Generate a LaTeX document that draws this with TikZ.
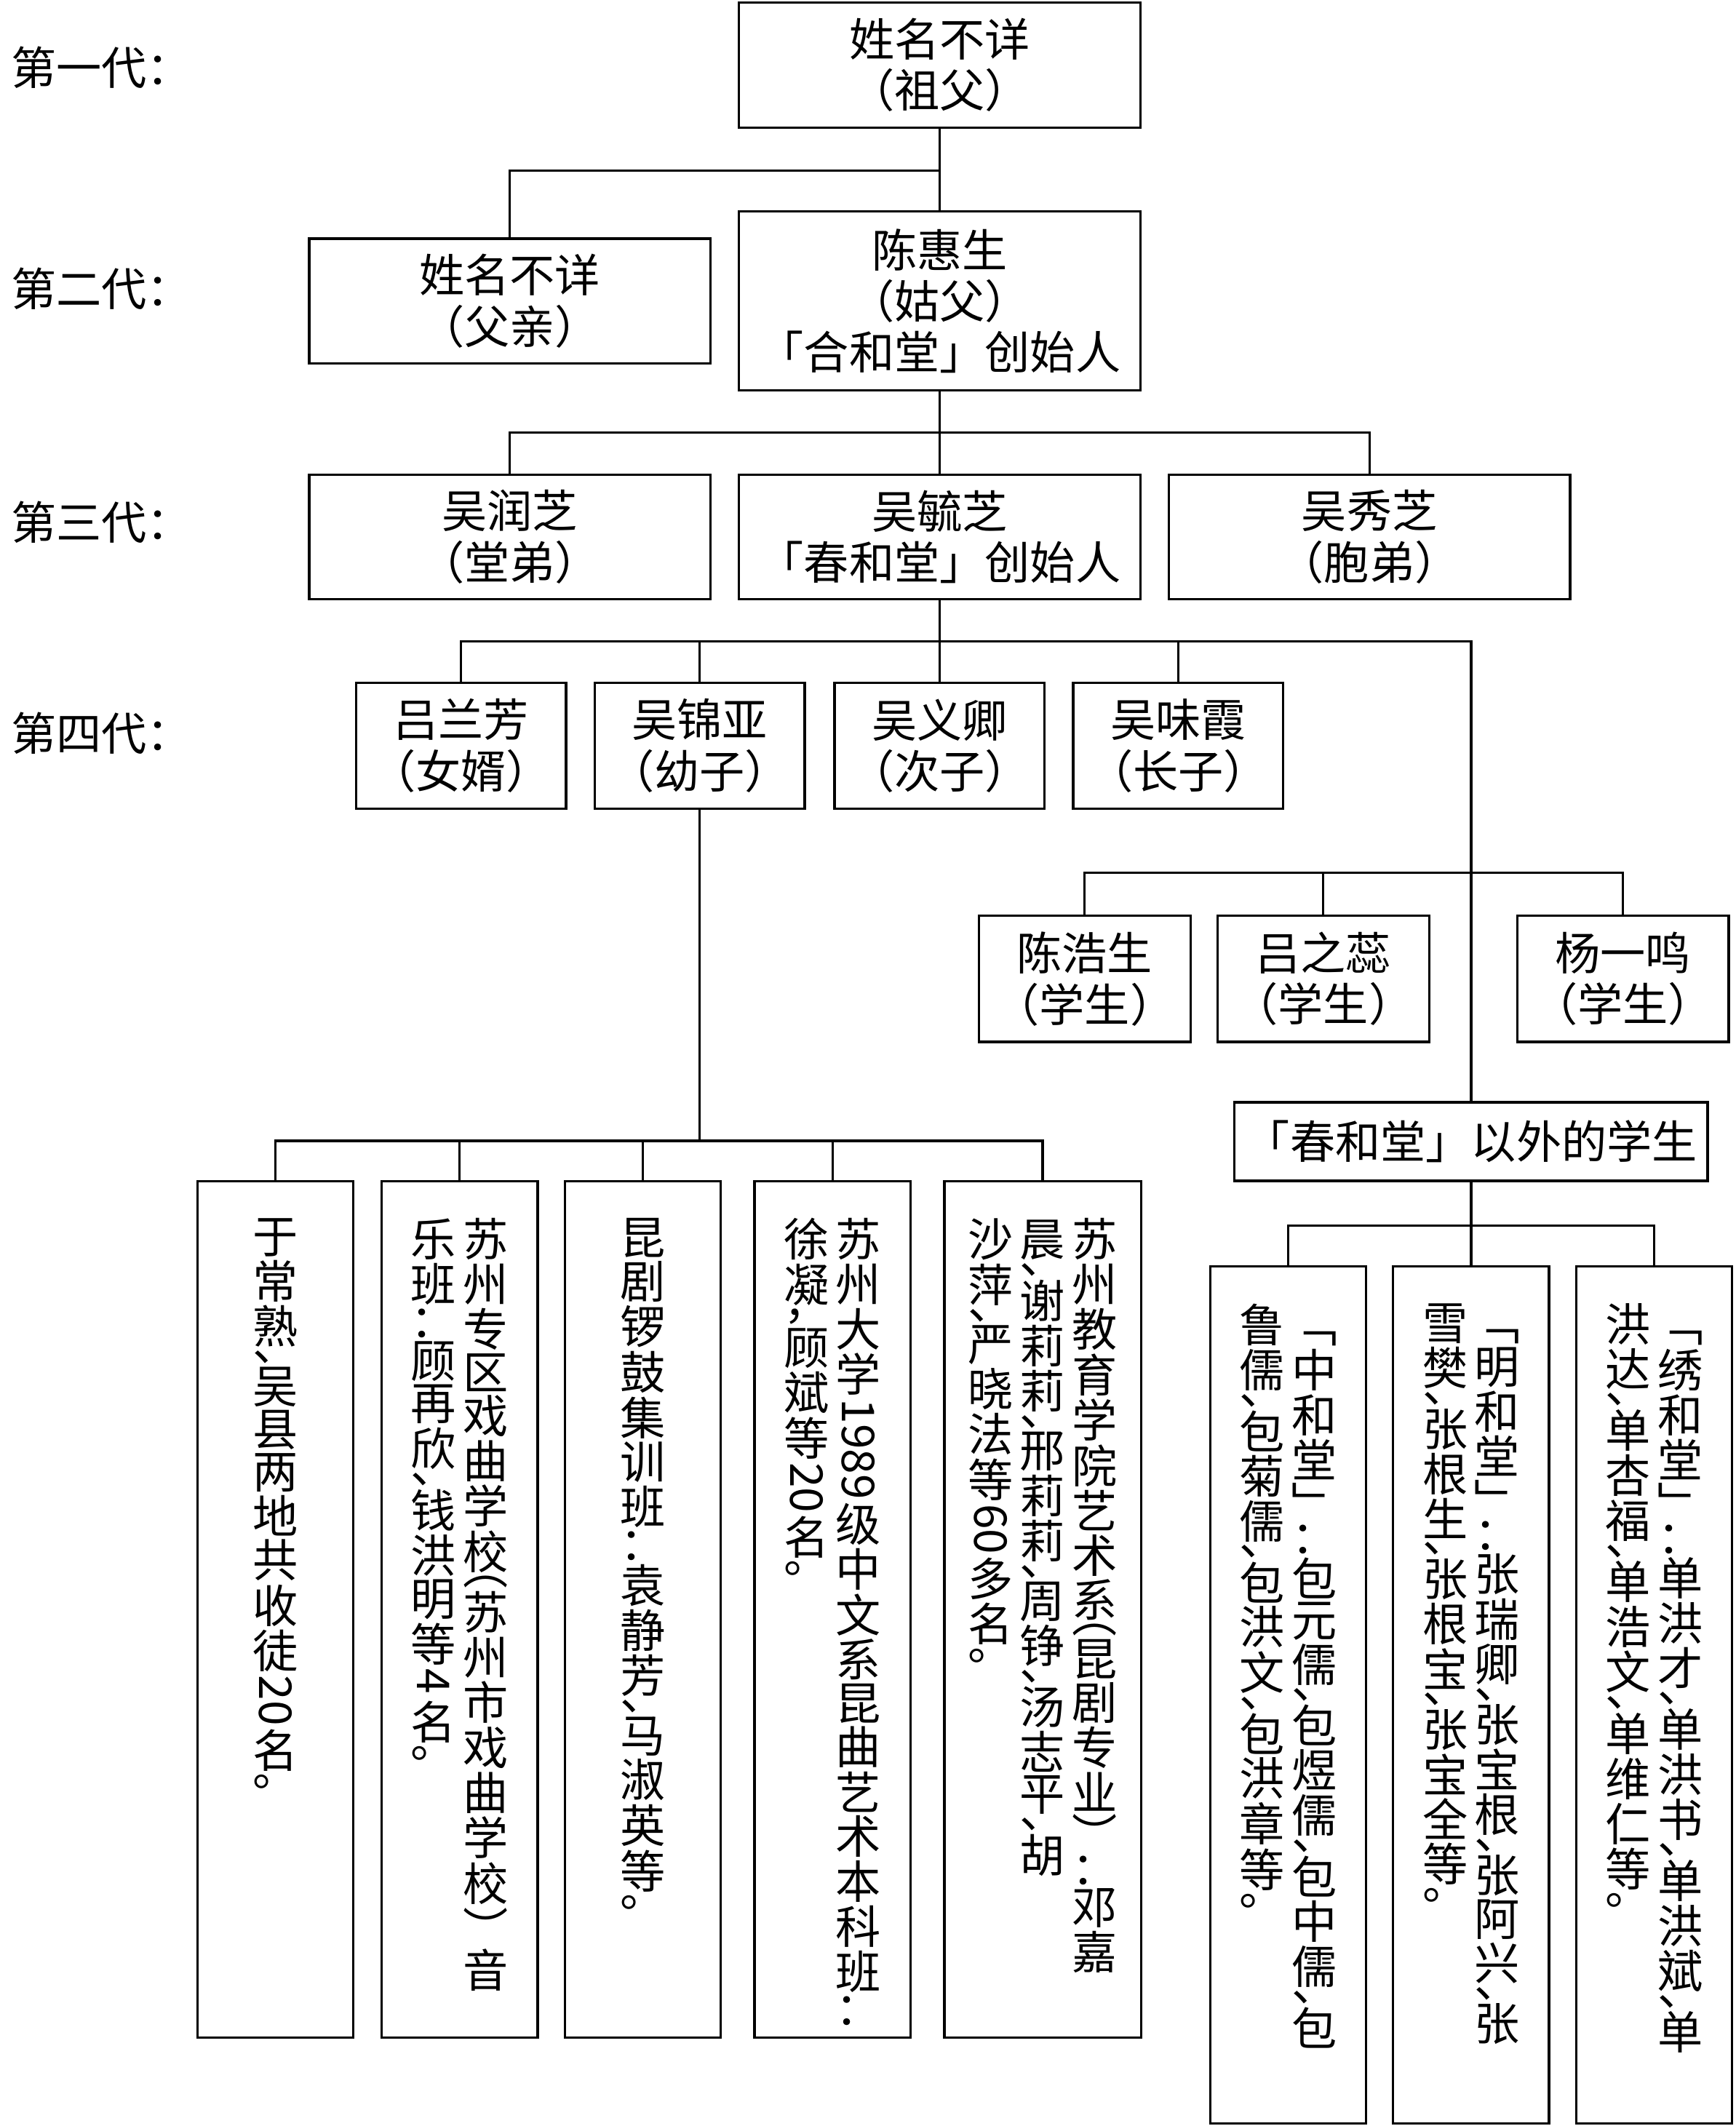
\documentclass[tikz,border=0pt]{standalone}
\usepackage{fontspec}
\usepackage{graphicx}
\setmainfont{Noto Sans CJK SC}
\XeTeXlinebreaklocale "zh"
\XeTeXlinebreakskip=0pt plus 1pt
\usetikzlibrary{positioning}

% one vertical column of characters
\ExplSyntaxOn
\NewDocumentCommand\vcol{m}{\vtop{\offinterlineskip
  \tl_map_inline:nn {#1}{\hbox_to_wd:nn {1.15em}{\hss ##1\hss}\kern0.08em}}}
\ExplSyntaxOff
\newcommand\vnum[1]{\rotatebox[origin=c]{-90}{#1}}

\tikzset{
  box/.style={rectangle,draw=black,line width=1pt,align=center,inner sep=2pt,
    font=\fontsize{19pt}{21.5pt}\selectfont},
  gbox/.style={box,minimum width=5.92cm,minimum height=1.84cm},
  sbox/.style={box,minimum width=3.1cm,minimum height=1.86cm},
  vbox/.style={rectangle,draw=black,line width=1pt,minimum width=2.3cm,minimum height=12.64cm},
  vtext/.style={inner sep=0pt,anchor=north,font=\fontsize{19pt}{22pt}\selectfont},
  gen/.style={anchor=west,font=\fontsize{19pt}{21pt}\selectfont},
  link/.style={line width=1pt}
}

\begin{document}
\begin{tikzpicture}[x=0.02cm,y=-0.02cm]
\useasboundingbox (0,0) rectangle (1280,1568);

% generations
\node[gen] (l1) at (2,50) {第一代：};
\node[gen] (l2) at (2,213) {第二代：};
\node[gen] (l3) at (2,385) {第三代：};
\node[gen] (l4) at (2,541) {第四代：};

\node[gbox] (g1) at (693,48) {姓名不详\\（祖父）};
\node[gbox] (g2a) at (376,222) {姓名不详\\（父亲）};
\node[gbox,minimum height=2.64cm] (g2b) at (693,222) {陈惠生\\（姑父）\\「合和堂」创始人};
\node[gbox] (g3a) at (376,396) {吴润芝\\（堂弟）};
\node[gbox] (g3b) at (693,396) {吴毓芝\\「春和堂」创始人};
\node[gbox] (g3c) at (1010,396) {吴秀芝\\（胞弟）};

\node[sbox] (g4a) at (340,550) {吕兰芳\\（女婿）};
\node[sbox] (g4b) at (516,550) {吴锦亚\\（幼子）};
\node[sbox] (g4c) at (693,550) {吴义卿\\（次子）};
\node[sbox] (g4d) at (869,550) {吴味霞\\（长子）};

\node[sbox,minimum width=3.12cm] (st1) at (800,722) {陈浩生\\（学生）};
\node[sbox,minimum width=3.12cm] (st2) at (976,722) {吕之蕊\\（学生）};
\node[sbox,minimum width=3.12cm] (st3) at (1197,722) {杨一鸣\\（学生）};
\node[box,minimum width=6.98cm,minimum height=1.16cm] (out) at (1085,842) {「春和堂」以外的学生};

% lower left
\node[vbox] (b1) at (203,1187) {};
\node[vbox] (b2) at (339,1187) {};
\node[vbox] (b3) at (474,1187) {};
\node[vbox] (b4) at (614,1187) {};
\node[vbox,minimum width=2.9cm] (b5) at (769,1187) {};
\node[vtext,below=0.56cm of b1.north] (t1) {\vcol{于常熟、吴县两地共收徒{\vnum{20}}名。}};
\node[vtext,below=0.56cm of b2.north] (t2) {\vcol{乐班：顾再欣、钱洪明等{\vnum{4}}名。}\vcol{苏州专区戏曲学校︵苏州市戏曲学校︶音}};
\node[vtext,below=0.56cm of b3.north] (t3) {\vcol{昆剧锣鼓集训班：袁静芳、马淑英等。}};
\node[vtext,below=0.56cm of b4.north] (t4) {\vcol{徐凝，顾斌等{\vnum{20}}名。}\vcol{苏州大学{\vnum{1989}}级中文系昆曲艺术本科班：}};
\node[vtext,below=0.56cm of b5.north] (t5) {\vcol{沙萍、严晓法等{\vnum{60}}多名。}\vcol{晨、谢莉莉、邢莉莉、周铮、汤志平、胡}\vcol{苏州教育学院艺术系︵昆剧专业︶：邓嘉}};

% lower right
\node[vbox] (r1) at (950,1250) {};
\node[vbox] (r2) at (1085,1250) {};
\node[vbox] (r3) at (1220,1250) {};
\node[vtext,below=0.56cm of r1.north] (u1) {\vcol{鲁儒、包菊儒、包洪文、包洪章等。}\vcol{﹁中和堂﹂：包元儒、包煜儒、包中儒、包}};
\node[vtext,below=0.56cm of r2.north] (u2) {\vcol{雪樊、张根生、张根宝、张宝全等。}\vcol{﹁明和堂﹂：张瑞卿、张宝根、张阿兴、张}};
\node[vtext,below=0.56cm of r3.north] (u3) {\vcol{洪达、单杏福、单浩文、单维仁等。}\vcol{﹁绣和堂﹂：单洪才、单洪书、单洪斌、单}};

% connectors
\draw[link] (g1.south) -- ++(0,31) -| (g2a.north);
\draw[link] (g1.south) -- (g2b.north);
\draw[link] (g2b.south) -- ++(0,30) -| (g3a.north);
\draw[link] (g2b.south) -- ++(0,30) -| (g3c.north);
\draw[link] (g2b.south) -- (g3b.north);
\draw[link] (g3b.south) -- ++(0,30) -| (g4a.north);
\draw[link] (g3b.south) -- ++(0,30) -| (g4b.north);
\draw[link] (g3b.south) -- (g4c.north);
\draw[link] (g3b.south) -- ++(0,30) -| (g4d.north);
\draw[link] (g3b.south) -- ++(0,30) -| (out.north);
\draw[link] (st1.north) -- ++(0,-31) -| (st3.north);
\draw[link] (st2.north) -- ++(0,-31);
\draw[link] (g4b.south) -- ++(0,244) -| (b1.north);
\draw[link] (g4b.south) -- ++(0,244) -| (b2.north);
\draw[link] (g4b.south) -- ++(0,244) -| (b3.north);
\draw[link] (g4b.south) -- ++(0,244) -| (b4.north);
\draw[link] (g4b.south) -- ++(0,244) -| (b5.north);
\draw[link] (out.south) -- ++(0,32) -| (r1.north);
\draw[link] (out.south) -- (r2.north);
\draw[link] (out.south) -- ++(0,32) -| (r3.north);
\end{tikzpicture}
\end{document}
